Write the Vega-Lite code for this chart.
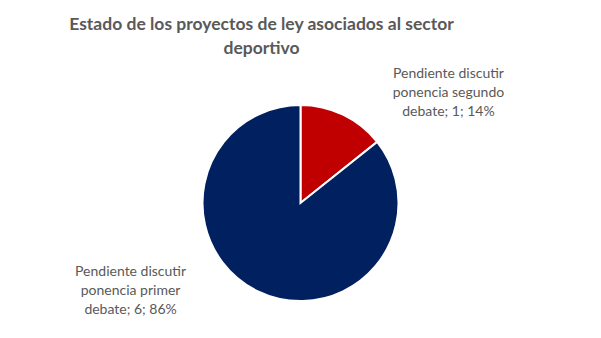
{
  "$schema": "https://vega.github.io/schema/vega-lite/v6.json",
  "width": 601,
  "height": 270,
  "autosize": {"type": "none"},
  "padding": {"top": 68, "left": 0, "right": 0, "bottom": 0},
  "background": "white",
  "title": {
    "text": ["Estado de los proyectos de ley asociados al sector", "deportivo"],
    "font": "Lato",
    "fontSize": 17.5,
    "fontWeight": "bold",
    "color": "#595959",
    "anchor": "middle",
    "frame": "group",
    "lineHeight": 24,
    "offset": 10,
    "dx": -39
  },
  "config": {"view": {"stroke": null}},
  "data": {
    "values": [
      {"estado": "Pendiente discutir ponencia segundo debate", "cantidad": 1, "porcentaje": "14%", "etiqueta": "Pendiente discutir\nponencia segundo\ndebate; 1; 14%"},
      {"estado": "Pendiente discutir ponencia primer debate", "cantidad": 6, "porcentaje": "86%", "etiqueta": "Pendiente discutir\nponencia primer\ndebate; 6; 86%"}
    ]
  },
  "encoding": {
    "theta": {"field": "cantidad", "type": "quantitative", "stack": true},
    "order": {"field": "cantidad", "sort": "ascending"}
  },
  "layer": [
    {
      "mark": {"type": "arc", "outerRadius": 98, "stroke": "white", "strokeWidth": 2},
      "encoding": {
        "color": {
          "field": "estado",
          "type": "nominal",
          "scale": {
            "domain": ["Pendiente discutir ponencia segundo debate", "Pendiente discutir ponencia primer debate"],
            "range": ["#C00000", "#002060"]
          },
          "legend": null
        }
      }
    },
    {
      "mark": {
        "type": "text",
        "radius": 187,
        "thetaOffset": 0.567,
        "dx": -11,
        "dy": -30,
        "font": "Lato",
        "fontSize": 14,
        "color": "#595959",
        "align": "center",
        "baseline": "middle",
        "lineBreak": "\n",
        "lineHeight": 19
      },
      "encoding": {
        "text": {"field": "etiqueta", "type": "nominal"}
      }
    }
  ]
}
